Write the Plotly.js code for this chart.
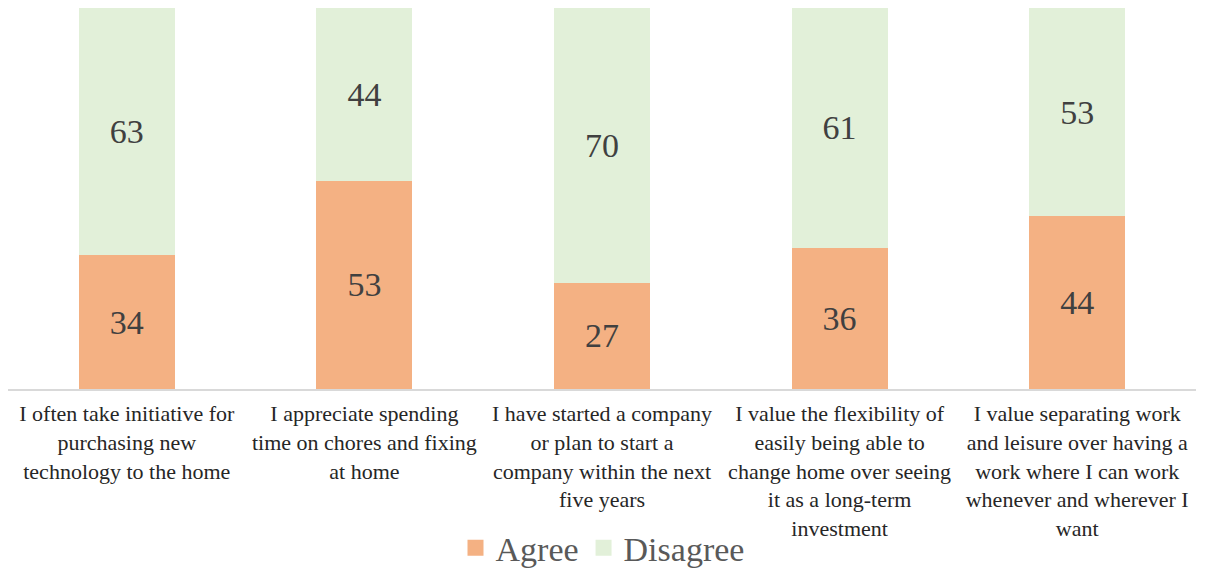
<!DOCTYPE html>
<html>
<head>
<meta charset="utf-8">
<script src="https://cdn.plot.ly/plotly-3.0.1.min.js"></script>
<style>html,body{margin:0;padding:0;background:#fff;}#chart{width:1205px;height:574px;}</style>
</head>
<body>
<div id="chart"></div>
<script>
const categories = [
  "I often take initiative for<br>purchasing new<br>technology to the home",
  "I appreciate spending<br>time on chores and fixing<br>at home",
  "I have started a company<br>or plan to start a<br>company within the next<br>five years",
  "I value the flexibility of<br>easily being able to<br>change home over seeing<br>it as a long-term<br>investment",
  "I value separating work<br>and leisure over having a<br>work where I can work<br>whenever and wherever I<br>want"
];
const seriesNames = ["Agree", "Disagree"];
const agree = [34, 53, 27, 36, 44];
const disagree = [63, 44, 70, 61, 53];

const font = "'Liberation Serif', 'DejaVu Serif', serif";
const colors = ['#F4B183', '#E2F0D9'];
const values = [agree, disagree];
const traces = [];
values.forEach((v, i) => {
  traces.push({type: 'bar', name: seriesNames[i], x: categories, y: v, text: v.map(String),
    textposition: 'inside', insidetextanchor: 'middle', textangle: 0,
    textfont: {family: font, size: 34, color: '#404040'},
    marker: {color: colors[i]}, hoverinfo: 'none', showlegend: false});
});
values.forEach((v, i) => {
  traces.push({type: 'scatter', mode: 'markers', name: seriesNames[i], x: [null], y: [null],
    marker: {symbol: 'square', size: 18, color: colors[i]}, showlegend: true, hoverinfo: 'none'});
});
const layout = {
  width: 1205, height: 574,
  margin: {l: 8, r: 9, t: 8, b: 185},
  barmode: 'stack', bargap: 0.596,
  paper_bgcolor: '#fff', plot_bgcolor: '#fff',
  font: {family: font, color: '#262626'},
  showlegend: true,
  legend: {orientation: 'h', x: 0.5, xanchor: 'center', xref: 'container',
           y: 0.045, yanchor: 'middle', yref: 'container',
           font: {family: font, size: 34, color: '#595959'}, traceorder: 'normal',
           itemwidth: 30},
  xaxis: {tickfont: {family: font, size: 22, color: '#262626'}, showline: true,
          linecolor: '#D9D9D9', linewidth: 2, ticks: '', showgrid: false, automargin: false,
          ticklabelstandoff: 4},
  yaxis: {range: [0, 97], visible: false, showgrid: false, zeroline: false}
};
Plotly.newPlot('chart', traces, layout, {displayModeBar: false, staticPlot: true});
</script>
</body>
</html>
